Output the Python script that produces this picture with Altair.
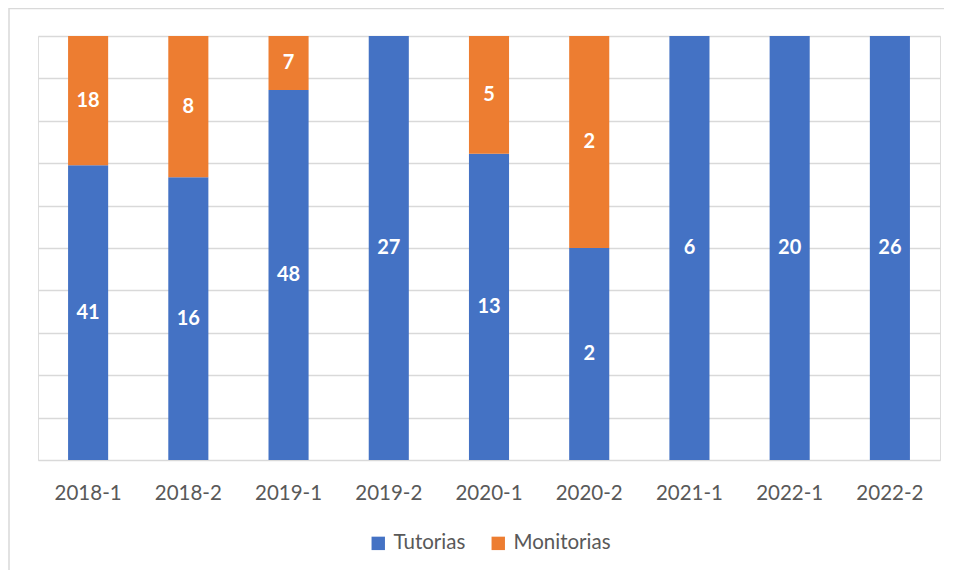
import altair as alt
import pandas as pd

periods = ["2018-1", "2018-2", "2019-1", "2019-2", "2020-1", "2020-2", "2021-1", "2022-1", "2022-2"]
tutorias = [41, 16, 48, 27, 13, 2, 6, 20, 26]
monitorias = [18, 8, 7, 0, 5, 2, 0, 0, 0]
series = ["Tutorias", "Monitorias"]
colors = ["#4472C4", "#ED7D31"]

rows = []
for p, t, m in zip(periods, tutorias, monitorias):
    if t:
        rows.append({"periodo": p, "serie": "Tutorias", "valor": t, "orden": 0})
    if m:
        rows.append({"periodo": p, "serie": "Monitorias", "valor": m, "orden": 1})
df = pd.DataFrame(rows)

W, H = 902, 424
FONT = "Lato"

base = alt.Chart(df).transform_stack(
    stack="valor", groupby=["periodo"], sort=[alt.SortField("orden", order="ascending")],
    as_=["v0", "v1"], offset="normalize"
).transform_calculate(mid="(datum.v0 + datum.v1) / 2")

xenc = alt.X("periodo:N", sort=periods, title=None,
             scale=alt.Scale(paddingInner=0.6, paddingOuter=0.3),
             axis=alt.Axis(labelAngle=0, labelFontSize=20.5, labelColor="#595959",
                           labelFont=FONT, ticks=False, domain=False, labelPadding=23))

bars = base.mark_bar().encode(
    x=xenc,
    y=alt.Y("v0:Q", title=None, scale=alt.Scale(domain=[0, 1]),
            axis=alt.Axis(values=[i / 10 for i in range(11)], labels=False, ticks=False,
                          domain=False, grid=True, gridColor="#d9d9d9", gridWidth=1.5)),
    y2="v1:Q",
    color=alt.Color("serie:N", scale=alt.Scale(domain=series, range=colors),
                    legend=alt.Legend(title=None, orient="none", direction="horizontal",
                                      legendX=330, legendY=497,
                                      symbolType="square", symbolSize=180, symbolStrokeWidth=0,
                                      labelFontSize=20.5, labelFont=FONT, labelColor="#595959",
                                      columnPadding=22, labelOffset=5)),
)

labels = base.mark_text(color="white", fontWeight="bold", fontSize=20, font=FONT).encode(
    x=alt.X("periodo:N", sort=periods),
    y=alt.Y("mid:Q"),
    text=alt.Text("valor:Q"),
)

frame_data = alt.Data(values=[{}])
left_line = alt.Chart(frame_data).mark_rule(color="#d9d9d9", strokeWidth=1.5).encode(
    x=alt.value(-29), y=alt.value(-28), y2=alt.value(H + 120))
top_line = alt.Chart(frame_data).mark_rule(color="#d9d9d9", strokeWidth=1.5).encode(
    x=alt.value(-29), x2=alt.value(W + 4), y=alt.value(-27.5))

chart = alt.layer(bars, labels, left_line, top_line).properties(
    width=W, height=H,
    autosize=alt.AutoSizeParams(type="none"),
    padding={"left": 30, "top": 28, "right": 6, "bottom": 110},
).configure_view(stroke=None).configure(background="white")

chart.save("out.html", embed_options={"renderer": "svg", "actions": False})
